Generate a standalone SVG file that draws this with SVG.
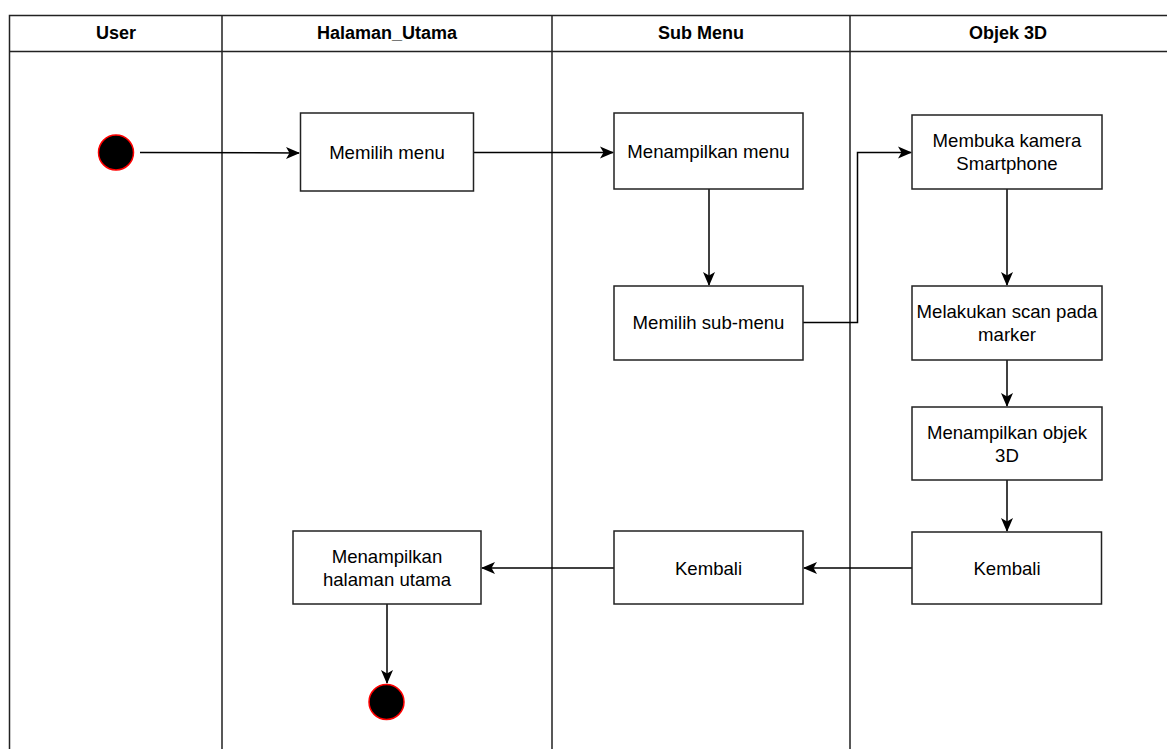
<svg xmlns="http://www.w3.org/2000/svg" width="1167" height="749" viewBox="0 0 1167 749">
<style>
.lane{fill:none;stroke:#222;stroke-width:1.5}
.hd{font-family:"Liberation Sans",Arial,sans-serif;font-size:18px;font-weight:bold;fill:#000;text-anchor:middle}
.box{fill:#fff;stroke:#222;stroke-width:1.5}
.t{font-family:"Liberation Sans",Arial,sans-serif;font-size:18.6px;fill:#000;text-anchor:middle}
.c{fill:none;stroke:#000;stroke-width:1.5}
.dot{fill:#000;stroke:#ff0000;stroke-width:1.5}
</style>
<defs>
<marker id="arr" viewBox="0 0 14 14" refX="13" refY="7" markerWidth="14" markerHeight="14" markerUnits="userSpaceOnUse" orient="auto">
<path d="M0,1 L14,7 L0,13 L3.5,7 Z" fill="#000"/>
</marker>
</defs>
<rect width="1167" height="749" fill="#fff"/>
<g id="lanes">
<path class="lane" d="M9.5,760 V15.5 H1180 M9.5,51.5 H1180 M222,15.5 V760 M552,15.5 V760 M850,15.5 V760"/>
<text class="hd" x="116" y="39">User</text>
<text class="hd" x="387" y="39">Halaman_Utama</text>
<text class="hd" x="701" y="39">Sub Menu</text>
<text class="hd" x="1008" y="39">Objek 3D</text>
</g>
<g id="connectors">
<path class="c" d="M140,152.5 L299,153" marker-end="url(#arr)"/>
<path class="c" d="M473,152.5 H613" marker-end="url(#arr)"/>
<path class="c" d="M709,189 V285" marker-end="url(#arr)"/>
<path class="c" d="M803,322.5 H857.5 V152.5 H911" marker-end="url(#arr)"/>
<path class="c" d="M1007,189 V285" marker-end="url(#arr)"/>
<path class="c" d="M1007,360 V406" marker-end="url(#arr)"/>
<path class="c" d="M1007,480 V531" marker-end="url(#arr)"/>
<path class="c" d="M912,568 H804" marker-end="url(#arr)"/>
<path class="c" d="M614,568 H482" marker-end="url(#arr)"/>
<path class="c" d="M387,604 V683" marker-end="url(#arr)"/>
</g>
<g id="start"><circle class="dot" cx="116" cy="152.5" r="17.5"/></g>
<g id="memilih-menu"><rect class="box" x="300.5" y="113" width="173" height="78"/><text class="t" x="387" y="159">Memilih menu</text></g>
<g id="menampilkan-menu"><rect class="box" x="614" y="113" width="189" height="76"/><text class="t" x="708.5" y="158">Menampilkan menu</text></g>
<g id="memilih-submenu"><rect class="box" x="614" y="286" width="189" height="74"/><text class="t" x="708.5" y="329">Memilih sub-menu</text></g>
<g id="membuka-kamera"><rect class="box" x="912" y="115" width="190" height="74"/><text class="t" x="1007" y="147">Membuka kamera</text><text class="t" x="1007" y="170">Smartphone</text></g>
<g id="scan-marker"><rect class="box" x="912" y="286" width="190" height="74"/><text class="t" x="1007" y="318">Melakukan scan pada</text><text class="t" x="1007" y="341">marker</text></g>
<g id="tampil-objek"><rect class="box" x="912" y="407" width="190" height="73"/><text class="t" x="1007" y="439">Menampilkan objek</text><text class="t" x="1007" y="462">3D</text></g>
<g id="kembali-objek"><rect class="box" x="912" y="532" width="189.5" height="72"/><text class="t" x="1007" y="575">Kembali</text></g>
<g id="kembali-sub"><rect class="box" x="614" y="531" width="189" height="73"/><text class="t" x="708.5" y="575">Kembali</text></g>
<g id="tampil-halaman"><rect class="box" x="293" y="531" width="188" height="73"/><text class="t" x="387" y="563">Menampilkan</text><text class="t" x="387" y="586">halaman utama</text></g>
<g id="end"><circle class="dot" cx="386.5" cy="702" r="17.5"/></g>
</svg>
